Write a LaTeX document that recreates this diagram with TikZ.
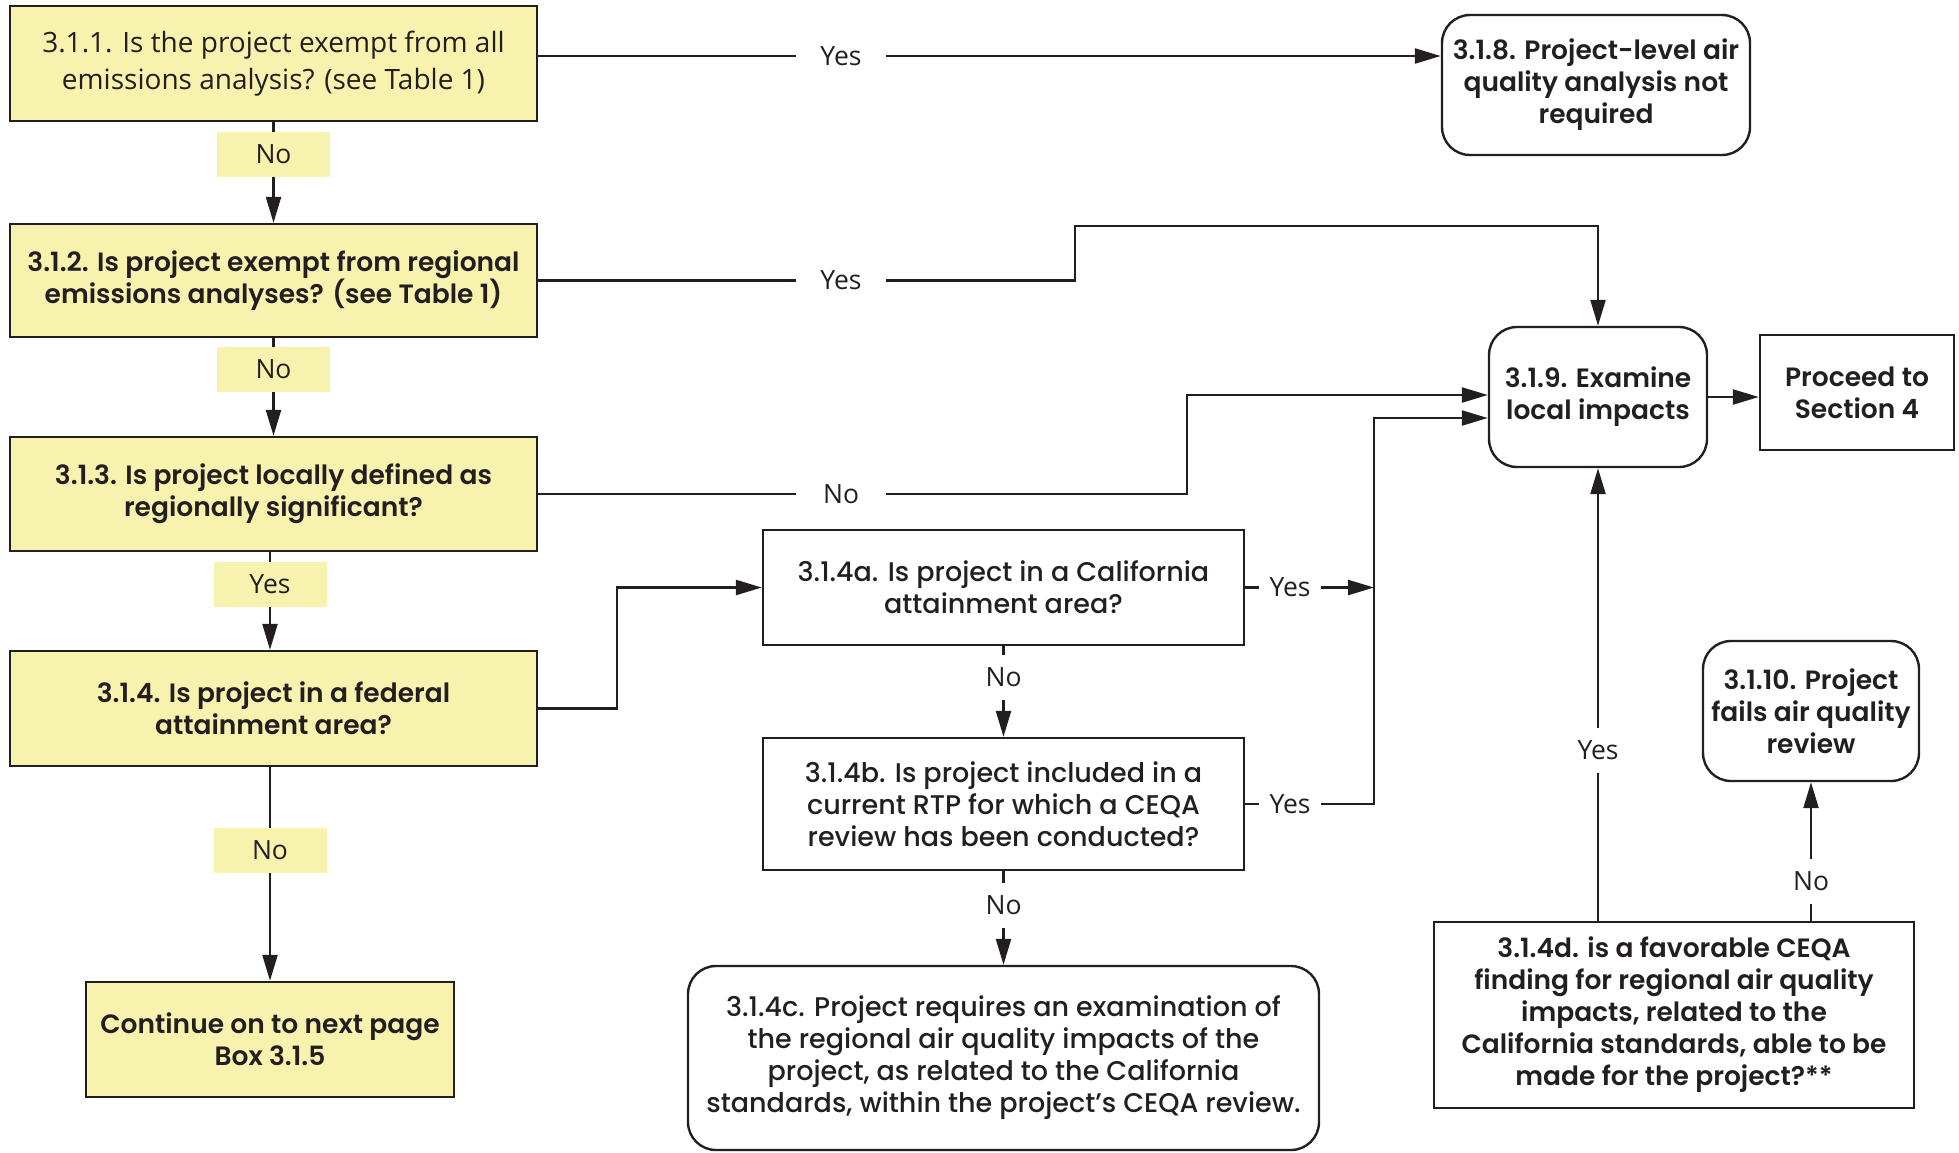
\documentclass[tikz,border=0pt]{standalone}
\usepackage{fontspec}
\usetikzlibrary{arrows.meta}
\setmainfont{Poppins}
\newfontfamily\mont{Poppins SemiBold}
\newfontfamily\montm{Poppins Medium}
\newfontfamily\lab{Open Sans}
\definecolor{dk}{HTML}{231F20}
\definecolor{yel}{HTML}{F7F3AF}
\begin{document}
\begin{tikzpicture}[x=1pt,y=-1pt,
  box/.style={draw=dk, line width=2.4pt, align=center, inner sep=0pt, text=dk,
    font=\mont\fontsize{26.5}{32}\selectfont},
  mbox/.style={box, font=\montm\fontsize{27}{32}\selectfont},
  ybox/.style={box, fill=yel},
  rbox/.style={box, rounded corners=28pt},
  lbl/.style={font=\lab\fontsize{26.5}{30}\selectfont, text=dk, inner sep=0pt, minimum height=45pt},
  ylbl/.style={lbl, fill=yel, minimum width=113pt},
  wlbl/.style={lbl, fill=white},
  ln/.style={draw=dk, line width=2.4pt},
  arr/.style={ln, -{Triangle[length=26pt,width=15pt]}},
]
\useasboundingbox (0,0) rectangle (1959,1152);

% left column
\node[ybox, minimum width=527pt, minimum height=115pt, font=\lab\fontsize{28}{37.5}\selectfont] (b1) at (273.5,63.5)
  {3.1.1. Is the project exempt from all\\emissions analysis? (see Table 1)};
\node[ybox, minimum width=527pt, minimum height=113pt] (b2) at (273.5,280.5)
  {3.1.2. Is project exempt from regional\\emissions analyses? (see Table 1)};
\node[ybox, minimum width=527pt, minimum height=114pt] (b3) at (273.5,494)
  {3.1.3. Is project locally defined as\\regionally significant?};
\node[ybox, minimum width=527pt, minimum height=115pt] (b4) at (273.5,708.5)
  {3.1.4. Is project in a federal\\attainment area?};
\node[ybox, minimum width=368pt, minimum height=115pt] (b5) at (270,1039.5)
  {Continue on to next page\\Box 3.1.5};

% right side
\node[rbox, minimum width=308pt, minimum height=140pt] (b8) at (1596,85)
  {3.1.8. Project-level air\\quality analysis not\\required};
\node[rbox, minimum width=218pt, minimum height=140pt] (b9) at (1598,397)
  {3.1.9. Examine\\local impacts};
\node[box, minimum width=194pt, minimum height=115pt] (bp) at (1857,392.5)
  {Proceed to\\Section 4};
\node[mbox, minimum width=481pt, minimum height=115pt] (b4a) at (1003.5,587.5)
  {3.1.4a. Is project in a California\\attainment area?};
\node[mbox, minimum width=481pt, minimum height=132pt] (b4b) at (1003.5,804)
  {3.1.4b. Is project included in a\\current RTP for which a CEQA\\review has been conducted?};
\node[mbox, rounded corners=28pt, minimum width=631pt, minimum height=184pt] (b4c) at (1003.5,1058)
  {3.1.4c. Project requires an examination of\\the regional air quality impacts of the\\project, as related to the California\\standards, within the project’s CEQA review.};
\node[box, minimum width=480pt, minimum height=186pt] (b4d) at (1674,1015)
  {3.1.4d. is a favorable CEQA\\finding for regional air quality\\impacts, related to the\\California standards, able to be\\made for the project?**};
\node[rbox, minimum width=216pt, minimum height=140pt] (b10) at (1811,711)
  {3.1.10. Project\\fails air quality\\review};

% junctions
\coordinate (yA) at (0,56);
\coordinate (x270) at (270,0);
\coordinate (j2a) at (1075,280.5);
\coordinate (j2b) at (1075,226);
\coordinate (j3) at (1187,395);
\coordinate (j4) at (617,587.5);
\coordinate (ja) at (1374,587.5);
\coordinate (jb) at (1374,418);

% connectors
\draw[arr] (b1.east |- yA) -- (b8.west |- yA);
\draw[arr] (b2.east) -- (j2a) -- (j2b) -- (j2b -| b9.north) -- (b9.north);
\draw[arr] (b3.east) -| (j3) -- (j3 -| b9.west);
\draw[arr] (b4.east) -| (j4) -- (b4a.west);
\draw[arr] (b4a.east) -- (ja);
\draw[arr] (b4b.east) -| (jb) -- (jb -| b9.west);
\draw[arr] (b9.east) -- (b9.east -| bp.west);
\draw[arr] (b4a.south) -- (b4b.north);
\draw[arr] (b4b.south) -- (b4c.north);
\draw[arr] (b4d.north -| b9.south) -- (b9.south);
\draw[arr] (b4d.north -| b10.south) -- (b10.south);
\draw[arr] (b1.south) -- (b2.north);
\draw[arr] (b2.south) -- (b3.north);
\draw[arr] (x270 |- b3.south) -- (x270 |- b4.north);
\draw[arr] (b5.north |- b4.south) -- (b5.north);

% labels
\node[wlbl, minimum width=90pt] (l1) at (841,56) {Yes};
\node[wlbl, minimum width=90pt] (l2) at (841,280.5) {Yes};
\node[wlbl, minimum width=90pt] (l3) at (841,494) {No};
\node[wlbl, minimum width=62pt] (l4) at (1290,587.5) {Yes};
\node[wlbl, minimum width=62pt] (l5) at (1290,804) {Yes};
\node[wlbl, minimum width=60pt] (l6) at (1003.5,677) {No};
\node[wlbl, minimum width=60pt] (l7) at (1003.5,905) {No};
\node[wlbl, minimum width=60pt] (l8) at (1598,750) {Yes};
\node[wlbl, minimum width=60pt] (l9) at (1811,881) {No};
\node[ylbl] (l10) at (273.5,154) {No};
\node[ylbl] (l11) at (273.5,369) {No};
\node[ylbl] (l12) at (270,584) {Yes};
\node[ylbl] (l13) at (270,850) {No};
\end{tikzpicture}
\end{document}
